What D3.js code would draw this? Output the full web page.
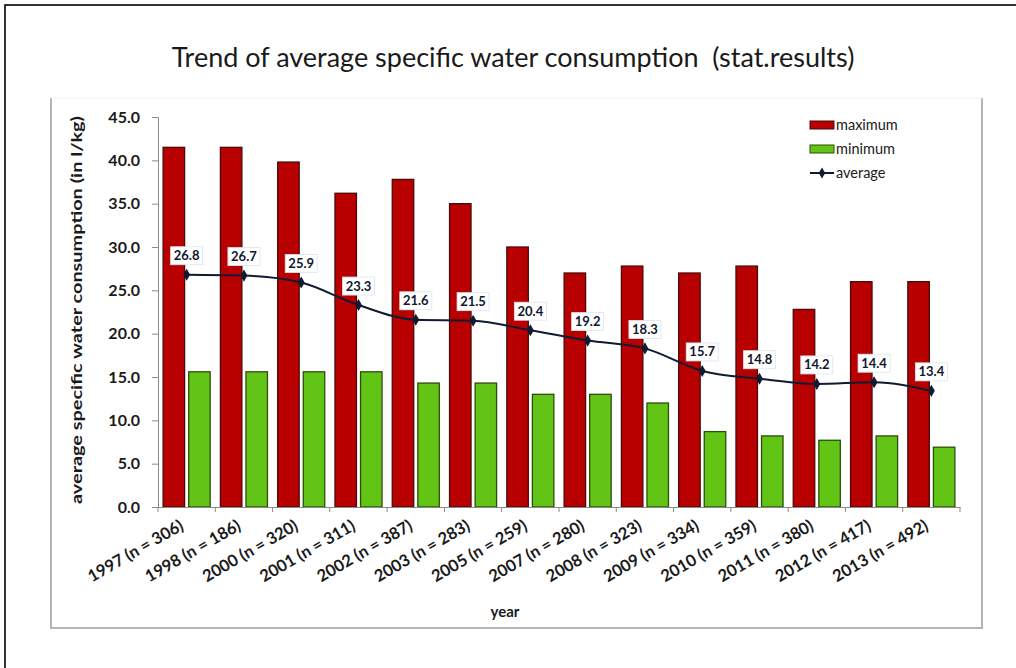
<!DOCTYPE html>
<html>
<head>
<meta charset="utf-8">
<script src="https://cdn.jsdelivr.net/npm/d3@7"></script>
<style>
  html, body { margin: 0; padding: 0; background: #fff; }
  svg { display: block; }
  text { font-family: Lato, "Open Sans", sans-serif; }
</style>
</head>
<body>
<svg id="chart" width="1016" height="668"></svg>
<script>
const categories = ["1997 (n = 306)", "1998 (n = 186)", "2000 (n = 320)", "2001 (n = 311)",
  "2002 (n = 387)", "2003 (n = 283)", "2005 (n = 259)", "2007 (n = 280)", "2008 (n = 323)",
  "2009 (n = 334)", "2010 (n = 359)", "2011 (n = 380)", "2012 (n = 417)", "2013 (n = 492)"];
const maximum = [41.5, 41.5, 39.8, 36.2, 37.8, 35.0, 30.0, 27.0, 27.8, 27.0, 27.8, 22.8, 26.0, 26.0];
const minimum = [15.6, 15.6, 15.6, 15.6, 14.3, 14.3, 13.0, 13.0, 12.0, 8.7, 8.2, 7.7, 8.2, 6.9];
const average = [26.8, 26.7, 25.9, 23.3, 21.6, 21.5, 20.4, 19.2, 18.3, 15.7, 14.8, 14.2, 14.4, 13.4];
const yTicks = [0, 5, 10, 15, 20, 25, 30, 35, 40, 45];
const seriesNames = ["maximum", "minimum", "average"];

const svg = d3.select("#chart");

// outer frame
svg.append("rect").attr("x", 5).attr("y", 5).attr("width", 1030).attr("height", 690)
  .attr("fill", "none").attr("stroke", "#000").attr("stroke-width", 1.6);

// inner chart box
svg.append("path").attr("d", "M51,98 L51,628 L982,628 L982,98")
  .attr("fill", "none").attr("stroke", "#b5b5b5").attr("stroke-width", 2);
svg.append("line").attr("x1", 51).attr("x2", 982).attr("y1", 98).attr("y2", 98)
  .attr("stroke", "#f0f0f0").attr("stroke-width", 1);

// title
const title = svg.append("text").attr("x", 513).attr("y", 67).attr("text-anchor", "middle")
  .attr("fill", "#1a1a1a").attr("font-size", 22)
  .text("Trend of average specific water consumption  (stat.results)")
  .attr("xml:space", "preserve");
{
  const w = title.node().getComputedTextLength();
  title.attr("font-size", 22 * 683 / w);
}

const plot = { left: 158, right: 960, top: 117, bottom: 507 };

const x = d3.scaleBand().domain(categories).range([plot.left, plot.right]).paddingInner(0).paddingOuter(0);
const y = d3.scaleLinear().domain([0, 45]).range([plot.bottom, plot.top]);
const sub = d3.scaleBand().domain(["maximum", "minimum"]).range([0, x.bandwidth()])
  .paddingInner(0.16).paddingOuter(0.2);

// bars
const g = svg.append("g");
categories.forEach((c, i) => {
  g.append("rect").attr("x", x(c) + sub("maximum")).attr("width", sub.bandwidth())
    .attr("y", y(maximum[i])).attr("height", y(0) - y(maximum[i]))
    .attr("fill", "#b80000").attr("stroke", "#4a0a0a").attr("stroke-width", 1.3);
  g.append("rect").attr("x", x(c) + sub("minimum")).attr("width", sub.bandwidth())
    .attr("y", y(minimum[i])).attr("height", y(0) - y(minimum[i]))
    .attr("fill", "#62c414").attr("stroke", "#2b4f0a").attr("stroke-width", 1.3);
});

// y axis
const yAxis = d3.axisLeft(y).tickValues(yTicks).tickFormat(d3.format(".1f")).tickSize(6).tickSizeOuter(6);
const ya = svg.append("g").attr("transform", `translate(${plot.left},0)`).call(yAxis);
ya.select(".domain").attr("stroke", "#8a8a8a");
ya.selectAll(".tick line").attr("stroke", "#8a8a8a");
ya.selectAll(".tick text").attr("font-family", "Lato, sans-serif").attr("font-weight", "bold")
  .attr("font-size", 16).attr("fill", "#1a1a1a").attr("x", -18);

// x axis
const xAxis = d3.axisBottom(x).tickSize(0).tickSizeOuter(0);
const xa = svg.append("g").attr("transform", `translate(0,${plot.bottom})`).call(xAxis);
xa.select(".domain").attr("stroke", "#8a8a8a");
xa.selectAll(".tick text").attr("font-family", "Lato, sans-serif").attr("font-weight", "bold")
  .attr("font-size", 16.5).attr("fill", "#1a1a1a")
  .attr("text-anchor", "end").attr("dy", 0).attr("y", 0)
  .attr("transform", "translate(-2,22) rotate(-30)");
// category boundary tick marks
const bounds = categories.map(c => x(c)).concat([plot.right]);
svg.append("g").selectAll("line").data(bounds).join("line")
  .attr("x1", d => d).attr("x2", d => d).attr("y1", plot.bottom).attr("y2", plot.bottom + 5)
  .attr("stroke", "#8a8a8a");

// axis titles
svg.append("text").attr("transform", `translate(82,${(plot.top + plot.bottom) / 2 - 2}) rotate(-90)`)
  .attr("text-anchor", "middle").attr("font-weight", "bold").attr("font-size", 15)
  .attr("fill", "#1a1a1a").attr("textLength", 388).attr("lengthAdjust", "spacingAndGlyphs")
  .text("average specific water consumption (in l/kg)");
svg.append("text").attr("x", 505).attr("y", 617).attr("text-anchor", "middle")
  .attr("font-weight", "bold").attr("font-size", 15).attr("fill", "#1a1a1a").text("year");

// average line
const cx = c => x(c) + x.bandwidth() / 2;
const line = d3.line().x((d, i) => cx(categories[i])).y(d => y(d)).curve(d3.curveMonotoneX);
svg.append("path").datum(average).attr("d", line).attr("fill", "none")
  .attr("stroke", "#111a33").attr("stroke-width", 2);
svg.append("g").selectAll("path").data(average).join("path")
  .attr("d", d3.symbol().type(d3.symbolDiamond).size(42))
  .attr("transform", (d, i) => `translate(${cx(categories[i])},${y(d)})`)
  .attr("fill", "#111a33");

// data labels
const lg = svg.append("g");
average.forEach((v, i) => {
  const px = cx(categories[i]), py = y(v) - 19;
  lg.append("rect").attr("x", px - 16).attr("y", py - 9).attr("width", 32).attr("height", 18)
    .attr("fill", "#fff").attr("stroke", "#dde3ee").attr("stroke-width", 0.8);
  lg.append("text").attr("x", px).attr("y", py + 4.5).attr("text-anchor", "middle")
    .attr("font-weight", "bold").attr("font-size", 13).attr("fill", "#10182e")
    .text(d3.format(".1f")(v));
});

// legend
const leg = svg.append("g");
const legColors = { maximum: ["#b80000", "#4a0a0a"], minimum: ["#62c414", "#2b4f0a"] };
seriesNames.forEach((s, i) => {
  const ly = 125 + i * 24;
  if (s === "average") {
    leg.append("line").attr("x1", 810).attr("x2", 834).attr("y1", ly).attr("y2", ly)
      .attr("stroke", "#111a33").attr("stroke-width", 2);
    leg.append("path").attr("d", d3.symbol().type(d3.symbolDiamond).size(36))
      .attr("transform", `translate(822,${ly})`).attr("fill", "#111a33");
  } else {
    leg.append("rect").attr("x", 810).attr("y", ly - 4).attr("width", 24).attr("height", 8)
      .attr("fill", legColors[s][0]).attr("stroke", legColors[s][1]).attr("stroke-width", 1);
  }
  leg.append("text").attr("x", 836).attr("y", ly + 5).attr("font-size", 14.5)
    .attr("fill", "#1a1a1a").text(s);
});
</script>
</body>
</html>
